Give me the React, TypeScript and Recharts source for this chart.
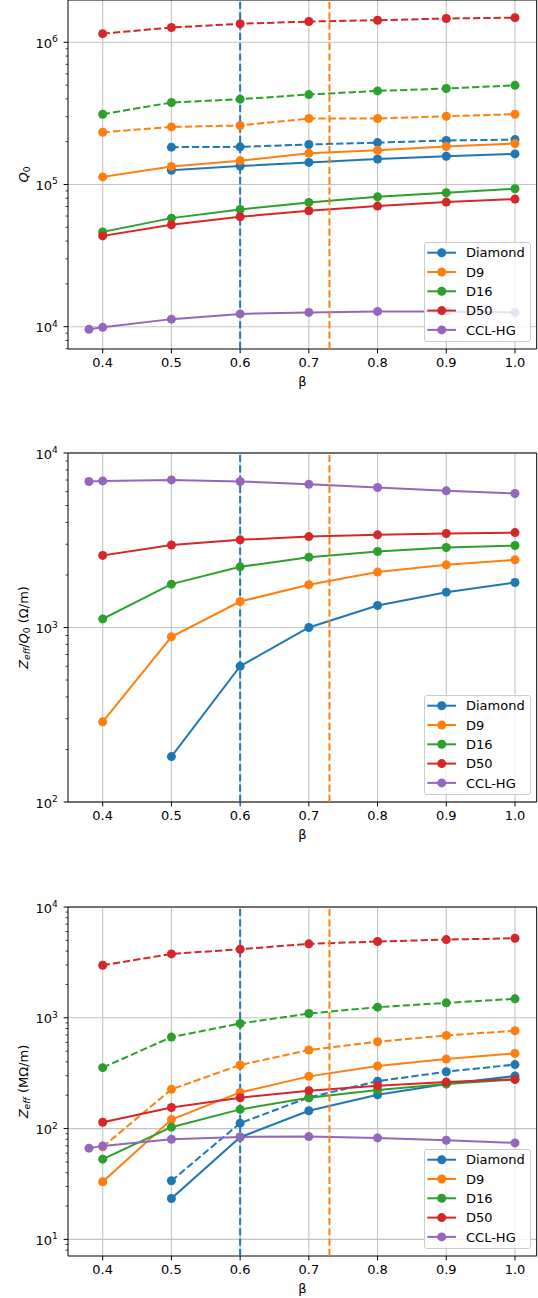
import React from 'react';
import { LineChart, Line, XAxis, YAxis, CartesianGrid, ReferenceLine, ReferenceArea, Legend } from 'recharts';

// beta values shared by every panel
const BETA = [0.38, 0.4, 0.5, 0.6, 0.7, 0.8, 0.9, 1.0];
const X_TICKS = [0.4, 0.5, 0.6, 0.7, 0.8, 0.9, 1.0];

const SERIES_NAMES = ['Diamond', 'D9', 'D16', 'D50', 'CCL-HG'];
const SERIES_COLORS = ['#1f77b4', '#ff7f0e', '#2ca02c', '#d62728', '#9467bd'];

// panel 1: Q0
const q0DiamondSolid = [null, null, 126000, 135000, 143000, 151000, 158000, 164000];
const q0DiamondDash = [null, null, 183000, 184000, 191000, 197000, 204000, 207000];
const q0D9Solid = [null, 113000, 134000, 147000, 166000, 174000, 185000, 194000];
const q0D9Dash = [null, 233000, 254000, 260000, 291000, 291000, 302000, 312000];
const q0D16Solid = [null, 46400, 58000, 66700, 74800, 81900, 87400, 93300];
const q0D16Dash = [null, 312000, 377000, 398000, 429000, 455000, 473000, 498000];
const q0D50Solid = [null, 43500, 52100, 59300, 65300, 70500, 75200, 78900];
const q0D50Dash = [null, 1150000, 1270000, 1350000, 1400000, 1430000, 1470000, 1490000];
const q0Ccl = [9580, 9890, 11300, 12300, 12600, 12800, 12800, 12600];

// panel 2: Zeff/Q0 (Ohm/m)
const zqDiamond = [null, null, 182, 600, 1000, 1337, 1594, 1812];
const zqD9 = [null, 288, 885, 1409, 1757, 2077, 2286, 2443];
const zqD16 = [null, 1120, 1772, 2226, 2530, 2727, 2874, 2950];
const zqD50 = [null, 2590, 2970, 3180, 3320, 3395, 3455, 3500];
const zqCcl = [6870, 6920, 7010, 6870, 6620, 6340, 6070, 5860];

// panel 3: Zeff (MOhm/m)
const zDiamondSolid = [null, null, 23.4, 83.6, 145, 202, 253, 298];
const zDiamondDash = [null, null, 33.8, 112, 191, 268, 326, 378];
const zD9Solid = [null, 33.1, 120.5, 212, 296, 367, 424, 477];
const zD9Dash = [null, 68.4, 226, 375, 512, 608, 693, 764];
const zD16Solid = [null, 53, 103, 149, 190, 223, 253, 278];
const zD16Dash = [null, 355, 670, 889, 1094, 1247, 1364, 1483];
const zD50Solid = [null, 114, 155, 190, 220, 244, 263, 278];
const zD50Dash = [null, 2980, 3770, 4160, 4650, 4880, 5080, 5225];
const zCcl = [66.6, 69.8, 80.1, 84.1, 84.7, 82.4, 78.5, 74.3];

const VLINES = [
  { x: 0.6, color: '#1f77b4' },
  { x: 0.73, color: '#ff7f0e' },
];

const FONT = '"DejaVu Sans", sans-serif';
const FS = 13;
const SUB = 9.1;
const W = 538;
const PLOT_LEFT = 68;
const PLOT_RIGHT = 536.7;
const PAD_TOP = 10;
const PLOT_H = 349;
const CHART_H = 410;
const X_DOMAIN: [number, number] = [0.3495, 1.0316];
const DASH = '7.2 3.1';
const LW = 2;
const DOT_R = 4.5;

type LineDef = { key: string; values: (number | null)[]; color: number; dashed: boolean };

const buildRows = (lines: LineDef[]) =>
  BETA.map((b, i) => {
    const row: Record<string, number | null> = { beta: b };
    lines.forEach(l => { row[l.key] = l.values[i]; });
    return row;
  });

const logTicks = (lo: number, hi: number) => {
  const out: number[] = [];
  for (let e = Math.floor(Math.log10(lo)); e <= Math.ceil(Math.log10(hi)); e++) {
    for (let m = 1; m < 10; m++) {
      const v = m * Math.pow(10, e);
      if (v >= lo * 0.999 && v <= hi) out.push(v);
    }
  }
  return out;
};

const YTick = (props: any) => {
  const { y, payload } = props;
  const v = payload.value;
  const exp = Math.log10(v);
  const major = Math.abs(exp - Math.round(exp)) < 1e-6;
  return (
    <g>
      <line x1={PLOT_LEFT - (major ? 4.4 : 2.5)} x2={PLOT_LEFT} y1={y} y2={y} stroke="#000" strokeWidth={major ? 1 : 0.75} />
      {major && (
        <text x={57.8} y={y + 5.5} textAnchor="end" fontFamily={FONT} fontSize={FS} fill="#000">
          10<tspan fontSize={SUB} dy={-5.5}>{Math.round(exp)}</tspan>
        </text>
      )}
    </g>
  );
};

const XTick = (props: any) => {
  const { x, payload } = props;
  const yb = PAD_TOP + PLOT_H;
  return (
    <g>
      <line x1={x} x2={x} y1={yb} y2={yb + 4.4} stroke="#000" strokeWidth={1} />
      <text x={x} y={yb + 18.3} textAnchor="middle" fontFamily={FONT} fontSize={FS} fill="#000">
        {Number(payload.value).toFixed(1)}
      </text>
    </g>
  );
};

const XTitle = () => (
  <text x={(PLOT_LEFT + PLOT_RIGHT) / 2} y={PAD_TOP + PLOT_H + 36.5} textAnchor="middle" fontFamily={FONT} fontSize={FS} fill="#000">
    β
  </text>
);

const YTitle = ({ kind }: { kind: string }) => {
  const t = `translate(27.8, ${PAD_TOP + PLOT_H / 2}) rotate(-90)`;
  return (
    <text transform={t} textAnchor="middle" fontFamily={FONT} fontSize={FS} fill="#000">
      {kind === 'q0' && (
        <>
          <tspan fontStyle="italic">Q</tspan>
          <tspan fontSize={SUB} dy={2.6}>0</tspan>
        </>
      )}
      {kind === 'zq' && (
        <>
          <tspan fontStyle="italic">Z</tspan>
          <tspan fontSize={SUB} fontStyle="italic" dy={2.6}>eff</tspan>
          <tspan dy={-2.6}>/</tspan>
          <tspan fontStyle="italic">Q</tspan>
          <tspan fontSize={SUB} dy={2.6}>0</tspan>
          <tspan dy={-2.6}> (Ω/m)</tspan>
        </>
      )}
      {kind === 'z' && (
        <>
          <tspan fontStyle="italic">Z</tspan>
          <tspan fontSize={SUB} fontStyle="italic" dy={2.6}>eff</tspan>
          <tspan dy={-2.6}> (MΩ/m)</tspan>
        </>
      )}
    </text>
  );
};

const LEG_W = 107;
const LEG_H = 100;

const LegendBox = () => (
  <svg width={LEG_W} height={LEG_H} style={{ display: 'block', overflow: 'visible' }}>
    <rect x={0.5} y={0.5} width={LEG_W - 1} height={LEG_H - 1} rx={2.5} fill="#fff" fillOpacity={0.8} stroke="#cccccc" strokeWidth={1} />
    {SERIES_NAMES.map((n, i) => {
      const cy = 10.7 + i * 19.3;
      return (
        <g key={n}>
          <line x1={4.3} x2={31} y1={cy} y2={cy} stroke={SERIES_COLORS[i]} strokeWidth={LW} strokeLinecap="square" />
          <circle cx={17.7} cy={cy} r={DOT_R} fill={SERIES_COLORS[i]} />
          <text x={42} y={cy + 4.7} fontFamily={FONT} fontSize={FS} fill="#000">{n}</text>
        </g>
      );
    })}
  </svg>
);

type PanelDef = { top: number; domain: [number, number]; majors: number[]; kind: string; lines: LineDef[] };

const PANELS: PanelDef[] = [
  {
    top: 0,
    domain: [Math.pow(10, 3.843), Math.pow(10, 6.2975)],
    majors: [1e4, 1e5, 1e6],
    kind: 'q0',
    lines: [
      { key: 'ds', values: q0DiamondSolid, color: 0, dashed: false },
      { key: 'dd', values: q0DiamondDash, color: 0, dashed: true },
      { key: 'd9s', values: q0D9Solid, color: 1, dashed: false },
      { key: 'd9d', values: q0D9Dash, color: 1, dashed: true },
      { key: 'd16s', values: q0D16Solid, color: 2, dashed: false },
      { key: 'd16d', values: q0D16Dash, color: 2, dashed: true },
      { key: 'd50s', values: q0D50Solid, color: 3, dashed: false },
      { key: 'd50d', values: q0D50Dash, color: 3, dashed: true },
      { key: 'ccl', values: q0Ccl, color: 4, dashed: false },
    ],
  },
  {
    top: 453.3,
    domain: [100, 10000],
    majors: [1e2, 1e3, 1e4],
    kind: 'zq',
    lines: [
      { key: 'ds', values: zqDiamond, color: 0, dashed: false },
      { key: 'd9s', values: zqD9, color: 1, dashed: false },
      { key: 'd16s', values: zqD16, color: 2, dashed: false },
      { key: 'd50s', values: zqD50, color: 3, dashed: false },
      { key: 'ccl', values: zqCcl, color: 4, dashed: false },
    ],
  },
  {
    top: 906.5,
    domain: [Math.pow(10, 0.85), 10000],
    majors: [1e1, 1e2, 1e3, 1e4],
    kind: 'z',
    lines: [
      { key: 'ds', values: zDiamondSolid, color: 0, dashed: false },
      { key: 'dd', values: zDiamondDash, color: 0, dashed: true },
      { key: 'd9s', values: zD9Solid, color: 1, dashed: false },
      { key: 'd9d', values: zD9Dash, color: 1, dashed: true },
      { key: 'd16s', values: zD16Solid, color: 2, dashed: false },
      { key: 'd16d', values: zD16Dash, color: 2, dashed: true },
      { key: 'd50s', values: zD50Solid, color: 3, dashed: false },
      { key: 'd50d', values: zD50Dash, color: 3, dashed: true },
      { key: 'ccl', values: zCcl, color: 4, dashed: false },
    ],
  },
];

const Panel = ({ p }: { p: PanelDef }) => {
  const rows = buildRows(p.lines);
  return (
    <div style={{ position: 'absolute', left: 0, top: p.top - PAD_TOP }}>
      <LineChart width={W} height={CHART_H} data={rows} margin={{ top: PAD_TOP, right: W - PLOT_RIGHT, left: 0, bottom: 0 }}>
        <CartesianGrid
          stroke="#c4c4c4"
          strokeWidth={1.1}
          horizontalValues={p.majors}
          verticalValues={X_TICKS}
        />
        <XAxis
          type="number"
          dataKey="beta"
          domain={X_DOMAIN}
          allowDataOverflow
          ticks={X_TICKS}
          interval={0}
          height={CHART_H - PAD_TOP - PLOT_H}
          tickSize={0}
          tickMargin={0}
          tickLine={false}
          axisLine={false}
          tick={XTick}
          label={() => <XTitle />}
        />
        <YAxis
          type="number"
          scale="log"
          domain={p.domain}
          allowDataOverflow
          ticks={logTicks(p.domain[0], p.domain[1])}
          interval={0}
          width={PLOT_LEFT}
          tickSize={0}
          tickMargin={0}
          tickLine={false}
          axisLine={false}
          tick={YTick}
          label={() => <YTitle kind={p.kind} />}
        />
        {p.lines.map(l => (
          <Line
            key={l.key}
            type="linear"
            dataKey={l.key}
            stroke={SERIES_COLORS[l.color]}
            strokeWidth={LW}
            strokeDasharray={l.dashed ? DASH : undefined}
            strokeLinecap={l.dashed ? 'butt' : 'square'}
            dot={{ r: DOT_R, fill: SERIES_COLORS[l.color], stroke: SERIES_COLORS[l.color], strokeWidth: 0 }}
            activeDot={false}
            isAnimationActive={false}
          />
        ))}
        {VLINES.map(v => (
          <ReferenceLine key={v.x} x={v.x} stroke={v.color} strokeWidth={LW} strokeDasharray={DASH} />
        ))}
        <ReferenceArea
          x1={X_DOMAIN[0]}
          x2={X_DOMAIN[1]}
          y1={p.domain[0]}
          y2={p.domain[1]}
          fill="none"
          fillOpacity={0}
          stroke="#000"
          strokeWidth={1}
          ifOverflow="visible"
        />
        <Legend
          layout="horizontal"
          verticalAlign="middle"
          align="center"
          content={() => <LegendBox />}
          wrapperStyle={{
            position: 'absolute',
            left: 423.5,
            top: PAD_TOP + PLOT_H - 7 - LEG_H,
            width: LEG_W,
            height: LEG_H,
            right: 'auto',
            bottom: 'auto',
            margin: 0,
            padding: 0,
            lineHeight: 0,
          }}
        />
      </LineChart>
    </div>
  );
}

export default function App() {
  return (
    <div style={{ position: 'absolute', left: 0, top: 0, width: W, height: 1298, overflow: 'hidden', background: '#fff' }}>
      {PANELS.map((p, i) => (
        <Panel key={i} p={p} />
      ))}
    </div>
  );
}
